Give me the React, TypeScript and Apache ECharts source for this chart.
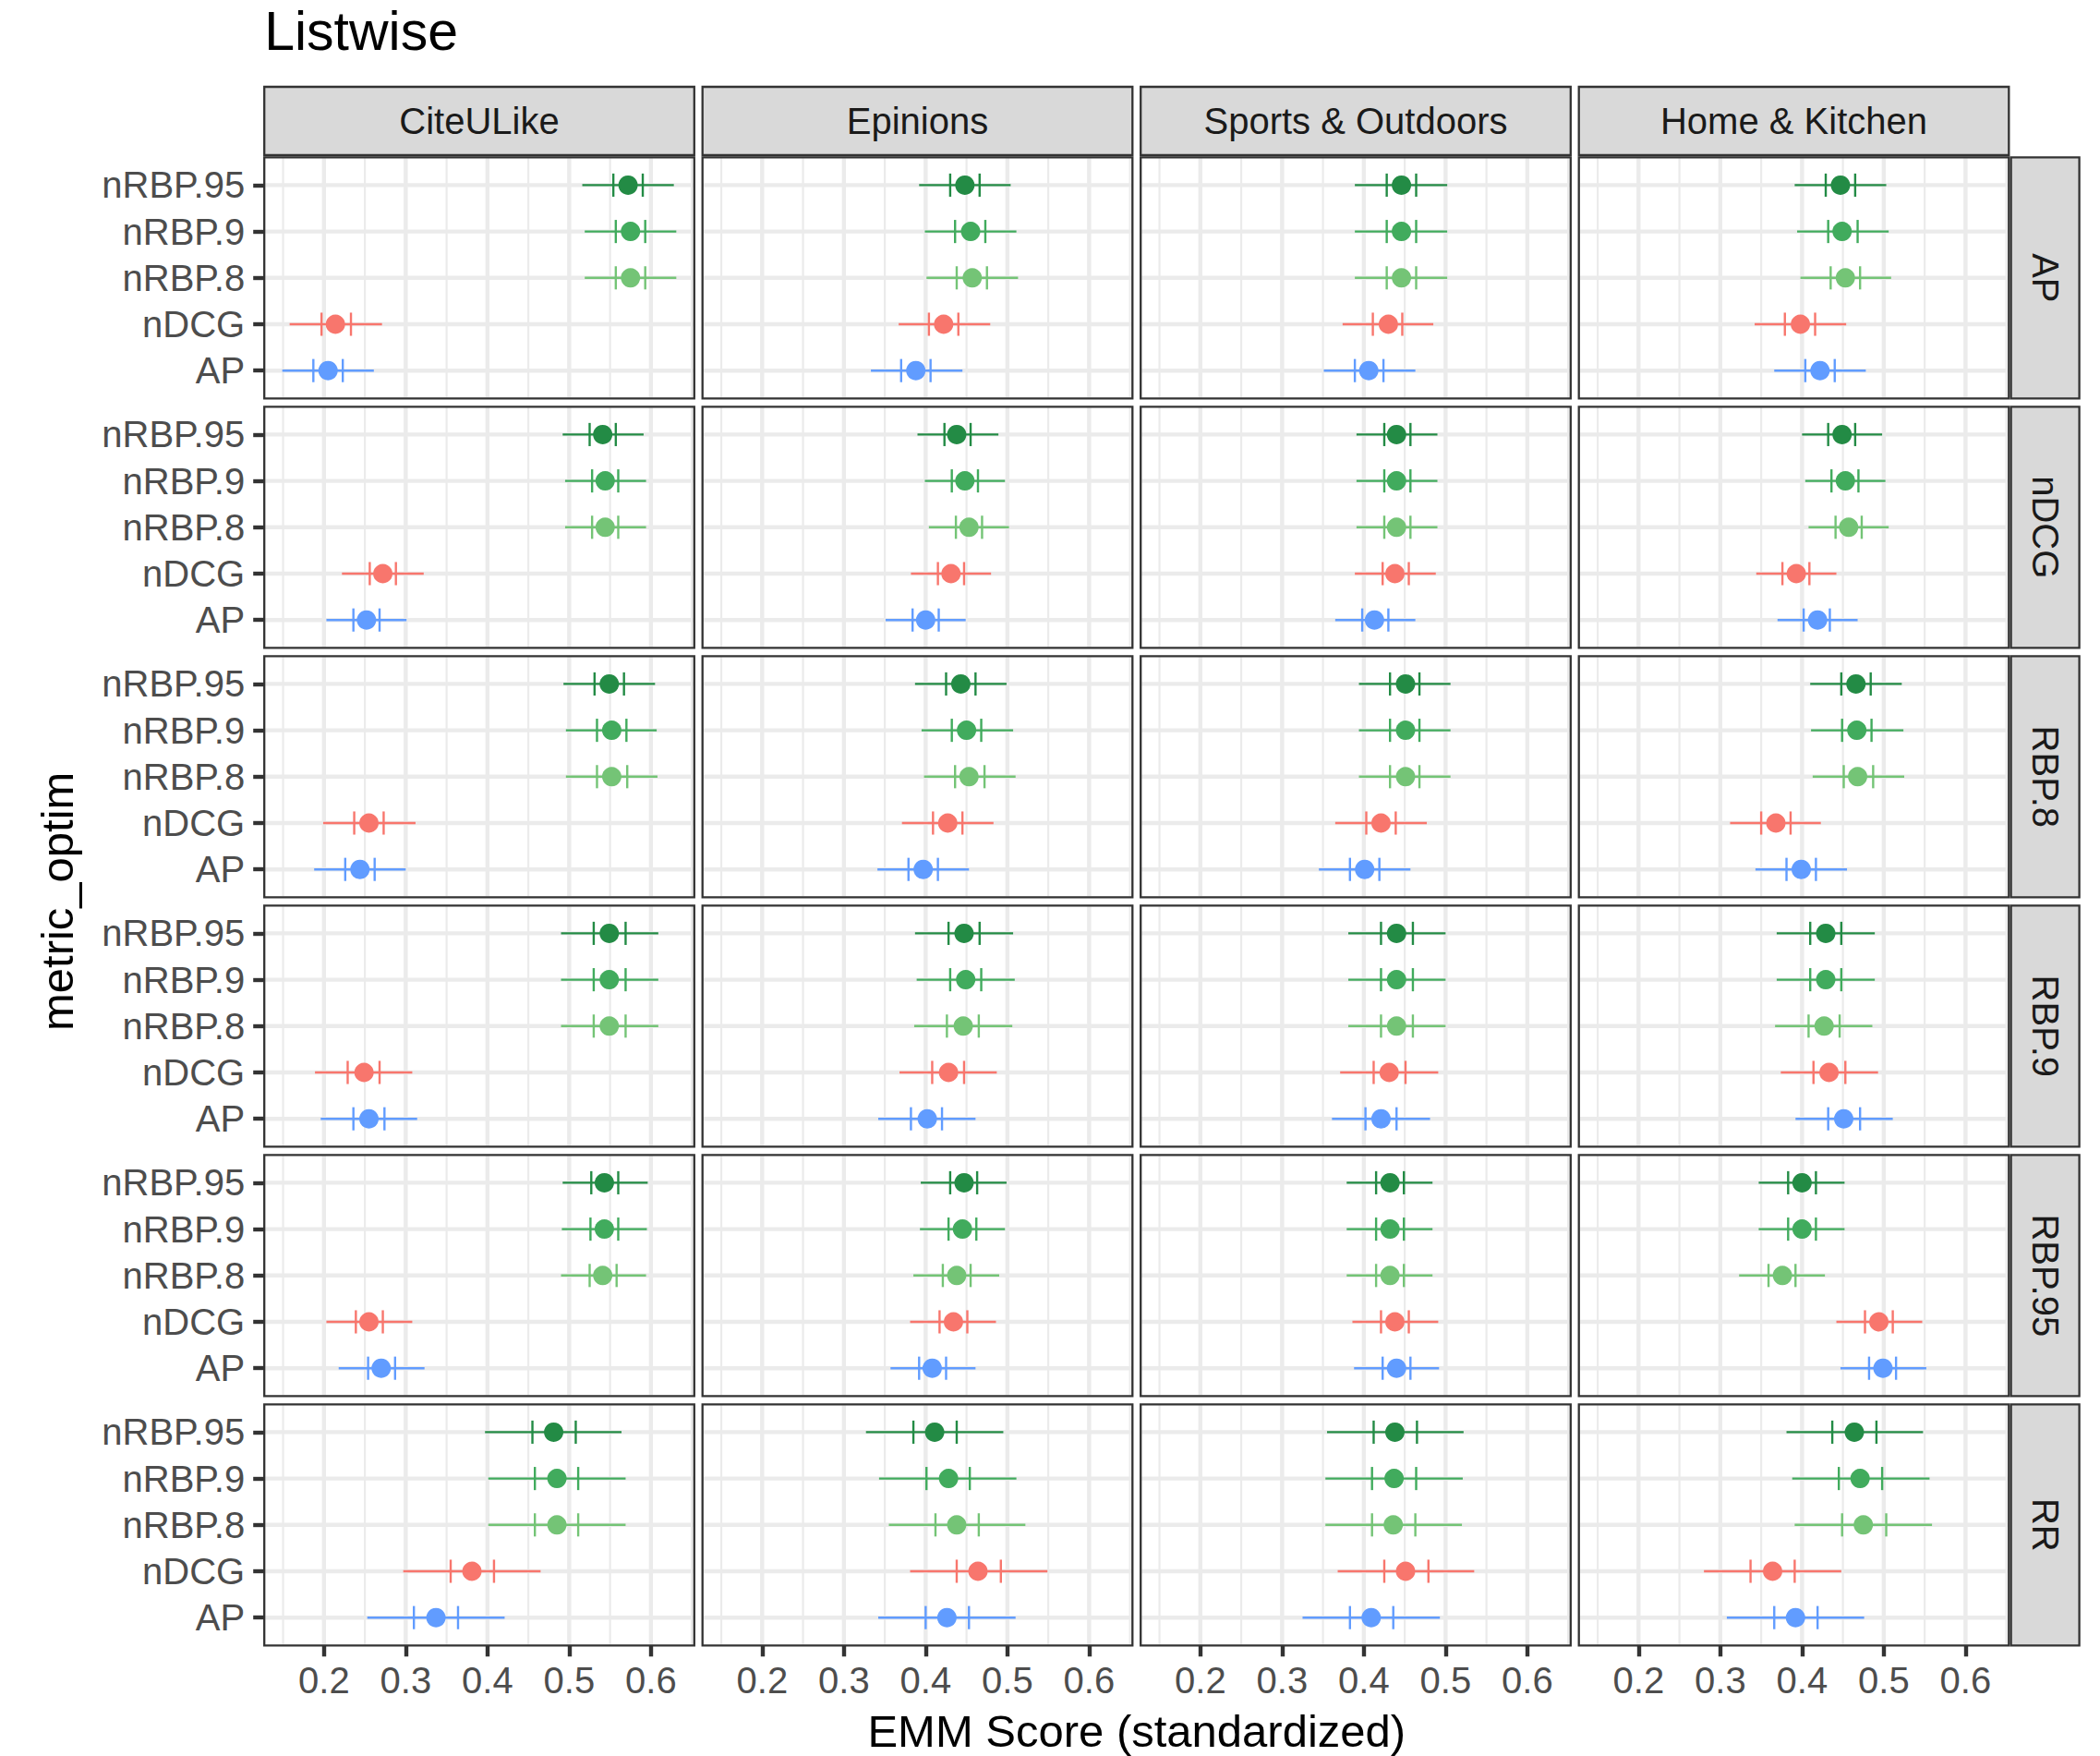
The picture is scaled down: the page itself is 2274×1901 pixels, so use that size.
import React, { useEffect, useRef } from "react";
import * as echarts from "echarts";

const chartTitle = "Listwise";
const xAxisTitle = "EMM Score (standardized)";
const yAxisTitle = "metric_optim";
const datasets = ["CiteULike", "Epinions", "Sports & Outdoors", "Home & Kitchen"];
const optimMetrics = ["AP", "nDCG", "RBP.8", "RBP.9", "RBP.95", "RR"];
// evaluation metrics, bottom to top
const evalMetrics = ["AP", "nDCG", "nRBP.8", "nRBP.9", "nRBP.95"];
const metricColors = ["#619CFF", "#F8766D", "#74C476", "#41AB5D", "#238B45"];
const xBreaks = [0.2, 0.3, 0.4, 0.5, 0.6];
const xMinorBreaks = [0.15, 0.25, 0.35, 0.45, 0.55, 0.65];
const xRange = [0.127, 0.653];
const yPositions = [1, 2, 3, 4, 5];
const yRange = [0.4, 5.6];

// each entry: [lower CI, lower inner, mean, upper inner, upper CI]; order = evalMetrics
// outer array order = datasets
const optAP = [
  [[0.149, 0.187, 0.205, 0.223, 0.261], [0.158, 0.197, 0.214, 0.233, 0.271], [0.519, 0.557, 0.575, 0.593, 0.631], [0.519, 0.557, 0.575, 0.593, 0.631], [0.516, 0.554, 0.572, 0.590, 0.628]],
  [[0.333, 0.370, 0.388, 0.406, 0.445], [0.367, 0.404, 0.422, 0.440, 0.479], [0.401, 0.438, 0.457, 0.475, 0.513], [0.399, 0.436, 0.455, 0.473, 0.511], [0.392, 0.430, 0.448, 0.466, 0.504]],
  [[0.351, 0.389, 0.406, 0.424, 0.463], [0.374, 0.411, 0.430, 0.447, 0.485], [0.389, 0.428, 0.446, 0.464, 0.502], [0.389, 0.428, 0.446, 0.464, 0.502], [0.389, 0.428, 0.446, 0.464, 0.502]],
  [[0.366, 0.404, 0.422, 0.440, 0.478], [0.342, 0.379, 0.398, 0.416, 0.454], [0.398, 0.435, 0.453, 0.471, 0.509], [0.394, 0.432, 0.449, 0.468, 0.506], [0.391, 0.429, 0.447, 0.465, 0.503]],
];
const optNDCG = [
  [[0.203, 0.236, 0.252, 0.268, 0.301], [0.222, 0.256, 0.272, 0.288, 0.322], [0.495, 0.528, 0.544, 0.560, 0.594], [0.495, 0.528, 0.544, 0.560, 0.594], [0.492, 0.525, 0.541, 0.557, 0.591]],
  [[0.351, 0.384, 0.400, 0.416, 0.449], [0.382, 0.415, 0.431, 0.447, 0.480], [0.404, 0.437, 0.453, 0.469, 0.502], [0.399, 0.432, 0.448, 0.464, 0.497], [0.390, 0.423, 0.438, 0.455, 0.489]],
  [[0.365, 0.398, 0.413, 0.430, 0.463], [0.389, 0.423, 0.438, 0.455, 0.488], [0.391, 0.425, 0.440, 0.457, 0.490], [0.391, 0.425, 0.440, 0.457, 0.490], [0.391, 0.425, 0.440, 0.457, 0.490]],
  [[0.370, 0.402, 0.419, 0.434, 0.468], [0.344, 0.376, 0.393, 0.409, 0.442], [0.408, 0.441, 0.457, 0.473, 0.506], [0.404, 0.436, 0.453, 0.469, 0.502], [0.400, 0.432, 0.449, 0.465, 0.498]],
];
const optRBP8 = [
  [[0.188, 0.226, 0.244, 0.262, 0.300], [0.199, 0.237, 0.255, 0.273, 0.312], [0.496, 0.534, 0.552, 0.571, 0.608], [0.496, 0.534, 0.552, 0.570, 0.607], [0.493, 0.531, 0.549, 0.567, 0.605]],
  [[0.341, 0.379, 0.397, 0.415, 0.453], [0.371, 0.409, 0.427, 0.445, 0.483], [0.398, 0.436, 0.453, 0.472, 0.510], [0.395, 0.432, 0.450, 0.468, 0.507], [0.387, 0.425, 0.443, 0.461, 0.499]],
  [[0.345, 0.383, 0.401, 0.419, 0.457], [0.365, 0.403, 0.421, 0.439, 0.477], [0.394, 0.432, 0.451, 0.468, 0.506], [0.394, 0.432, 0.451, 0.468, 0.506], [0.394, 0.432, 0.451, 0.468, 0.506]],
  [[0.343, 0.381, 0.399, 0.417, 0.455], [0.312, 0.350, 0.368, 0.386, 0.423], [0.413, 0.451, 0.468, 0.487, 0.525], [0.411, 0.449, 0.467, 0.485, 0.524], [0.410, 0.448, 0.466, 0.484, 0.522]],
];
const optRBP9 = [
  [[0.196, 0.236, 0.255, 0.274, 0.314], [0.189, 0.229, 0.249, 0.268, 0.308], [0.490, 0.530, 0.549, 0.569, 0.609], [0.490, 0.530, 0.549, 0.569, 0.609], [0.490, 0.530, 0.549, 0.569, 0.609]],
  [[0.342, 0.382, 0.402, 0.420, 0.461], [0.368, 0.408, 0.428, 0.447, 0.487], [0.386, 0.426, 0.446, 0.465, 0.506], [0.389, 0.430, 0.449, 0.468, 0.509], [0.387, 0.428, 0.447, 0.466, 0.507]],
  [[0.361, 0.402, 0.421, 0.440, 0.481], [0.371, 0.412, 0.431, 0.451, 0.491], [0.381, 0.421, 0.440, 0.460, 0.500], [0.381, 0.421, 0.440, 0.460, 0.500], [0.381, 0.421, 0.440, 0.460, 0.500]],
  [[0.392, 0.432, 0.451, 0.471, 0.511], [0.374, 0.414, 0.433, 0.453, 0.493], [0.367, 0.408, 0.427, 0.446, 0.486], [0.369, 0.410, 0.429, 0.448, 0.489], [0.369, 0.410, 0.429, 0.448, 0.489]],
];
const optRBP95 = [
  [[0.218, 0.254, 0.270, 0.287, 0.323], [0.203, 0.239, 0.255, 0.272, 0.308], [0.490, 0.525, 0.541, 0.558, 0.594], [0.491, 0.526, 0.543, 0.560, 0.595], [0.492, 0.527, 0.543, 0.560, 0.596]],
  [[0.357, 0.392, 0.408, 0.425, 0.461], [0.381, 0.417, 0.434, 0.451, 0.486], [0.385, 0.421, 0.438, 0.455, 0.490], [0.393, 0.428, 0.445, 0.462, 0.497], [0.394, 0.430, 0.447, 0.463, 0.499]],
  [[0.388, 0.423, 0.440, 0.457, 0.492], [0.386, 0.421, 0.438, 0.455, 0.491], [0.379, 0.415, 0.432, 0.449, 0.484], [0.379, 0.415, 0.432, 0.449, 0.484], [0.379, 0.415, 0.432, 0.449, 0.484]],
  [[0.447, 0.482, 0.499, 0.515, 0.552], [0.442, 0.477, 0.494, 0.511, 0.547], [0.323, 0.359, 0.376, 0.392, 0.428], [0.347, 0.383, 0.400, 0.417, 0.452], [0.347, 0.383, 0.400, 0.417, 0.452]],
];
const optRR = [
  [[0.253, 0.310, 0.337, 0.364, 0.421], [0.297, 0.355, 0.381, 0.408, 0.465], [0.401, 0.458, 0.485, 0.511, 0.569], [0.401, 0.458, 0.485, 0.511, 0.569], [0.397, 0.455, 0.481, 0.508, 0.564]],
  [[0.342, 0.400, 0.426, 0.453, 0.510], [0.381, 0.438, 0.464, 0.492, 0.549], [0.355, 0.412, 0.438, 0.465, 0.522], [0.343, 0.401, 0.428, 0.454, 0.511], [0.327, 0.385, 0.411, 0.438, 0.495]],
  [[0.325, 0.383, 0.409, 0.436, 0.493], [0.368, 0.425, 0.451, 0.479, 0.535], [0.353, 0.410, 0.436, 0.463, 0.520], [0.353, 0.410, 0.437, 0.464, 0.521], [0.355, 0.412, 0.438, 0.465, 0.522]],
  [[0.308, 0.366, 0.392, 0.419, 0.476], [0.280, 0.337, 0.364, 0.391, 0.448], [0.391, 0.449, 0.475, 0.503, 0.559], [0.388, 0.445, 0.471, 0.498, 0.556], [0.381, 0.437, 0.464, 0.491, 0.548]],
];
const rowsData = [optAP, optNDCG, optRBP8, optRBP9, optRBP95, optRR];

const FONT = "'Liberation Sans', Arial, Helvetica, sans-serif";
const L0 = 286.2;
const T0 = 170.3;
const PW = 465.6;
const PH = 261;
const CP = 474.5;
const RP = 270;
const STRIP = 74;
const BW = 2.3;
const SMALL = 40;

function buildOption() {
  const grid: any[] = [];
  const xAxis: any[] = [];
  const yAxis: any[] = [];
  const series: any[] = [];
  const graphic: any[] = [];
  const nRows = optimMetrics.length;
  const nCols = datasets.length;

  rowsData.forEach((rowData, r) => {
    rowData.forEach((panel, c) => {
      const idx = r * nCols + c;
      const left = L0 + c * CP;
      const top = T0 + r * RP;
      const isBottom = r === nRows - 1;
      const isLeft = c === 0;
      grid.push({ left, top, width: PW, height: PH, show: true, backgroundColor: "#ffffff", borderWidth: 0 });
      xAxis.push({
        gridIndex: idx,
        type: "value",
        min: xRange[0],
        max: xRange[1],
        axisLine: { show: false },
        splitLine: { show: false },
        axisTick: { show: isBottom, customValues: xBreaks, length: 12, lineStyle: { color: "#333333", width: 4.4 } },
        axisLabel: {
          show: isBottom,
          customValues: xBreaks,
          formatter: (v: number) => v.toFixed(1),
          margin: 18,
          fontSize: SMALL,
          color: "#4D4D4D",
          fontFamily: FONT,
        },
      });
      yAxis.push({
        gridIndex: idx,
        type: "value",
        min: yRange[0],
        max: yRange[1],
        axisLine: { show: false },
        splitLine: { show: false },
        axisTick: { show: isLeft, customValues: yPositions, length: 12, lineStyle: { color: "#333333", width: 4.4 } },
        axisLabel: {
          show: isLeft,
          customValues: yPositions,
          formatter: (v: number) => evalMetrics[Math.round(v) - 1] || "",
          margin: 21,
          fontSize: SMALL,
          color: "#4D4D4D",
          fontFamily: FONT,
        },
      });
      // gridlines
      series.push({
        type: "custom",
        xAxisIndex: idx,
        yAxisIndex: idx,
        silent: true,
        z: 1,
        data: [[0.3, 3]],
        renderItem: (params: any, api: any) => {
          const cs = params.coordSys;
          const children: any[] = [];
          xMinorBreaks.forEach((v) => {
            const px = api.coord([v, 3])[0];
            children.push({ type: "line", shape: { x1: px, y1: cs.y + 1, x2: px, y2: cs.y + cs.height - 1 }, style: { stroke: "#EBEBEB", lineWidth: 2.2 } });
          });
          xBreaks.forEach((v) => {
            const px = api.coord([v, 3])[0];
            children.push({ type: "line", shape: { x1: px, y1: cs.y + 1, x2: px, y2: cs.y + cs.height - 1 }, style: { stroke: "#EBEBEB", lineWidth: 4.4 } });
          });
          yPositions.forEach((v) => {
            const py = api.coord([0.3, v])[1];
            children.push({ type: "line", shape: { x1: cs.x + 1, y1: py, x2: cs.x + cs.width - 1, y2: py }, style: { stroke: "#EBEBEB", lineWidth: 4.4 } });
          });
          return { type: "group", children };
        },
      });
      // data
      series.push({
        type: "custom",
        xAxisIndex: idx,
        yAxisIndex: idx,
        silent: true,
        z: 5,
        encode: { x: 3, y: 0 },
        data: panel.map((d, k) => [k, d[0], d[1], d[2], d[3], d[4]]),
        renderItem: (params: any, api: any) => {
          const k = api.value(0);
          const yv = k + 1;
          const col = metricColors[k];
          const lo = api.coord([api.value(1), yv]);
          const hi = api.coord([api.value(5), yv]);
          const m = api.coord([api.value(3), yv]);
          const iloT = api.coord([api.value(2), yv + 0.25]);
          const iloB = api.coord([api.value(2), yv - 0.25]);
          const ihiT = api.coord([api.value(4), yv + 0.25]);
          const ihiB = api.coord([api.value(4), yv - 0.25]);
          return {
            type: "group",
            children: [
              { type: "line", shape: { x1: lo[0], y1: lo[1], x2: hi[0], y2: hi[1] }, style: { stroke: col, lineWidth: 2.4 } },
              { type: "line", shape: { x1: iloT[0], y1: iloT[1], x2: iloB[0], y2: iloB[1] }, style: { stroke: col, lineWidth: 2.4 } },
              { type: "line", shape: { x1: ihiT[0], y1: ihiT[1], x2: ihiB[0], y2: ihiB[1] }, style: { stroke: col, lineWidth: 2.4 } },
              { type: "circle", shape: { cx: m[0], cy: m[1], r: 10.5 }, style: { fill: col } },
            ],
          };
        },
      });
      // panel border
      graphic.push({
        type: "rect",
        z: 100,
        silent: true,
        shape: { x: left, y: top, width: PW, height: PH },
        style: { fill: "none", stroke: "#333333", lineWidth: BW },
      });
    });
  });

  // top strips
  datasets.forEach((ds, c) => {
    const left = L0 + c * CP;
    const y = T0 - BW - STRIP;
    graphic.push({
      type: "rect",
      z: 100,
      silent: true,
      shape: { x: left, y, width: PW, height: STRIP },
      style: { fill: "#D9D9D9", stroke: "#333333", lineWidth: BW },
    });
    graphic.push({
      type: "text",
      z: 101,
      silent: true,
      x: left + PW / 2,
      y: y + STRIP / 2,
      style: { text: ds, fontSize: SMALL, fontFamily: FONT, fill: "#1A1A1A", align: "center", verticalAlign: "middle", textAlign: "center", textVerticalAlign: "middle" },
    });
  });
  // right strips
  optimMetrics.forEach((om, r) => {
    const x = L0 + (datasets.length - 1) * CP + PW + BW;
    const top = T0 + r * RP;
    graphic.push({
      type: "rect",
      z: 100,
      silent: true,
      shape: { x, y: top, width: STRIP, height: PH },
      style: { fill: "#D9D9D9", stroke: "#333333", lineWidth: BW },
    });
    graphic.push({
      type: "text",
      z: 101,
      silent: true,
      x: x + STRIP / 2,
      y: top + PH / 2,
      rotation: -Math.PI / 2,
      style: { text: om, fontSize: SMALL, fontFamily: FONT, fill: "#1A1A1A", align: "center", verticalAlign: "middle", textAlign: "center", textVerticalAlign: "middle" },
    });
  });
  // titles
  graphic.push({
    type: "text",
    z: 101,
    silent: true,
    x: L0,
    y: 34,
    style: { text: chartTitle, fontSize: 59, fontFamily: FONT, fill: "#000000", align: "left", verticalAlign: "middle", textAlign: "left", textVerticalAlign: "middle" },
  });
  const plotRight = L0 + (datasets.length - 1) * CP + PW;
  graphic.push({
    type: "text",
    z: 101,
    silent: true,
    x: (L0 + plotRight) / 2,
    y: 1874,
    style: { text: xAxisTitle, fontSize: 49, fontFamily: FONT, fill: "#000000", align: "center", verticalAlign: "middle", textAlign: "center", textVerticalAlign: "middle" },
  });
  const plotBottom = T0 + (optimMetrics.length - 1) * RP + PH;
  graphic.push({
    type: "text",
    z: 101,
    silent: true,
    x: 62,
    y: (T0 + plotBottom) / 2,
    rotation: Math.PI / 2,
    style: { text: yAxisTitle, fontSize: 49, fontFamily: FONT, fill: "#000000", align: "center", verticalAlign: "middle", textAlign: "center", textVerticalAlign: "middle" },
  });

  return {
    animation: false,
    backgroundColor: "#ffffff",
    grid,
    xAxis,
    yAxis,
    series,
    graphic,
  };
}

export default function App() {
  const ref = useRef<HTMLDivElement>(null);
  useEffect(() => {
    if (!ref.current) return;
    const chart = echarts.init(ref.current, undefined, { renderer: "svg" });
    chart.setOption(buildOption() as any);
    return () => {
      chart.dispose();
    };
  }, []);
  return <div ref={ref} style={{ position: "absolute", left: 0, top: 0, width: 2274, height: 1901 }} />;
}
